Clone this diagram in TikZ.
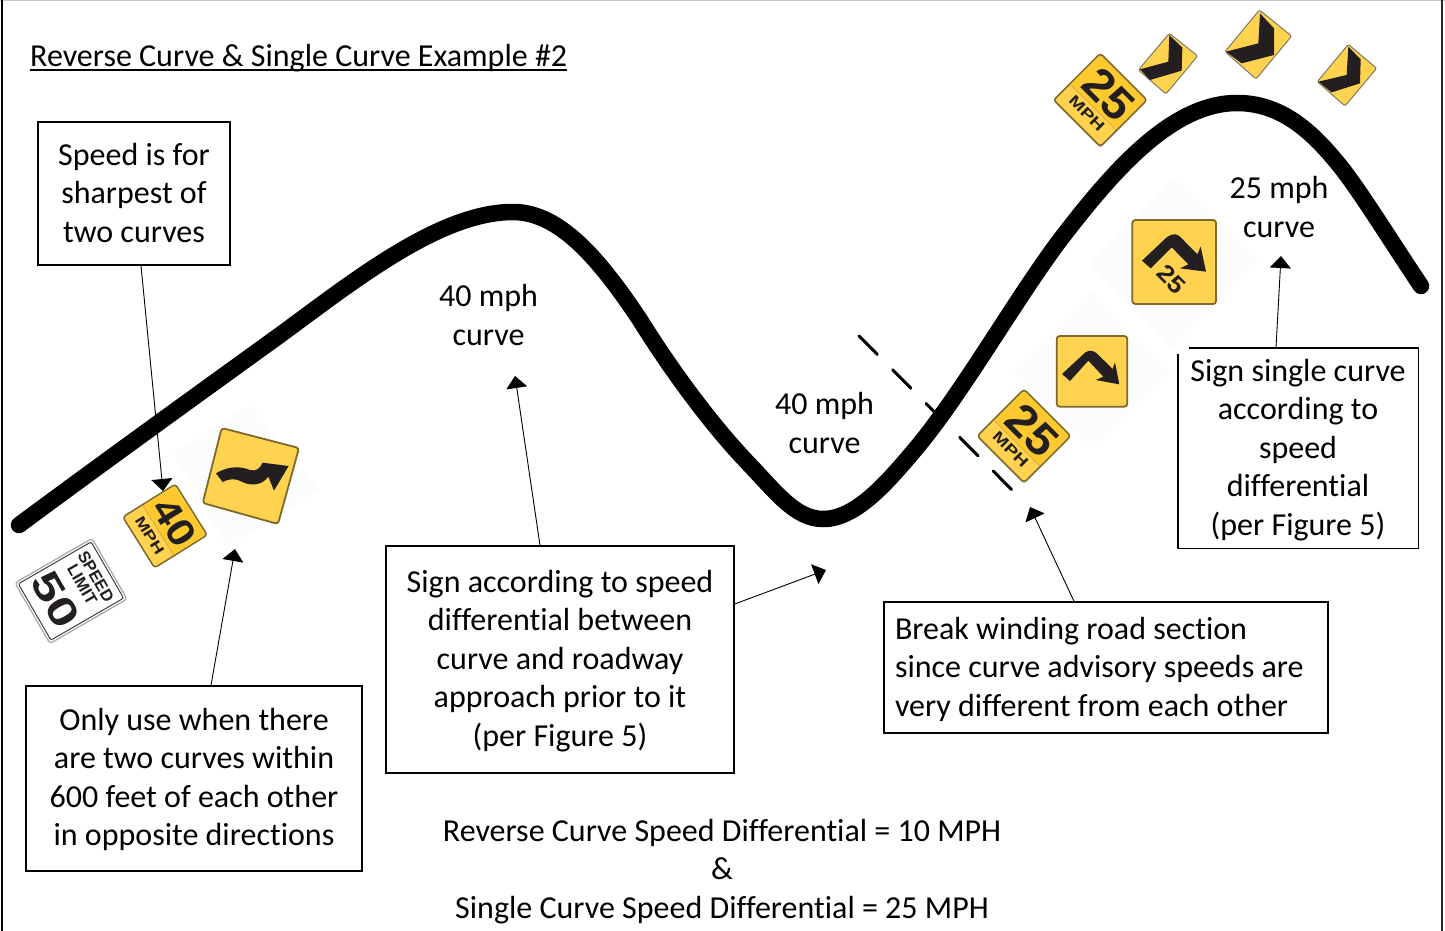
\documentclass[tikz,border=0pt]{standalone}
\usepackage{fontspec}
\setmainfont{Carlito}[Ligatures=CommonOff]
\newfontfamily\signfont{Liberation Sans}[BoldFont={Liberation Sans Bold}]
\usetikzlibrary{arrows.meta,calc}
\definecolor{signyellow}{HTML}{FFD24F}
\definecolor{signband}{HTML}{FDC92F}
\definecolor{signedge}{HTML}{7C6A2C}
\definecolor{signink}{HTML}{231F20}
\definecolor{halo}{HTML}{FCFCFD}
\tikzset{
  txt/.style={font=\fontsize{32}{38.5}\selectfont,align=center,inner sep=0pt,text=black},
  frame/.style={draw=black,line width=1.4pt,fill=white,inner sep=0pt},
  link/.style={draw=black,line width=0.9pt,-{Triangle[length=12pt,width=21pt]},shorten >=0pt},
  road/.style={draw=black,line width=16.5pt,line cap=round,line join=round},
  cut/.style={draw=black,line width=3pt,line cap=round,dash pattern=on 26pt off 21.6pt},
  plate/.style={fill=signyellow,draw=signedge,line width=1.5pt,rounded corners=3pt},
  chevplate/.style={fill=signyellow,draw=gray!70!signedge,line width=1pt,rounded corners=2pt},
  ink/.style={fill=signink,draw=none},
  signtxt/.style={transform shape,inner sep=0pt,text=signink},
  zoomed/.style={scale=1/3},
}
\newcommand{\speedplate}[2]{%
  \begin{scope}[shift={(#1,#2)},rotate=-45]
    \fill[gray!25] (-32,-32) ++(1,2) rectangle ++(65,64);
    \path[plate,line width=1.6pt] (-33,-33) rectangle (33,33);
    \begin{scope}
      \clip[rounded corners=3pt] (-32,-32) rectangle (32,32);
      \fill[signband] (-32,-32) rectangle (32,10);
    \end{scope}
    \draw[signedge!35!signyellow,line width=0.8pt] (-32,10) -- (32,10);
    \node[signtxt,xscale=1.05,font=\signfont\bfseries\fontsize{45}{45}\selectfont] at (2,-10) {25};
    \node[signtxt,xscale=1.3,font=\signfont\bfseries\fontsize{15}{15}\selectfont] at (0,19) {MPH};
  \end{scope}}
\begin{document}
\begin{tikzpicture}[x=1pt,y=-1pt]
\useasboundingbox (0,0) rectangle (1445,931);
\fill[white] (0,0) rectangle (1445,931);
% outer frame
\draw[gray!45,line width=2pt] (0,0.5) -- (1445,0.5);
\draw[black,line width=2.6pt] (2,0) -- (2,931);
\draw[black!85,line width=2pt] (1442,0) -- (1442,931);

% faint halos of the pasted signs
\fill[halo] (173,453) -- (250,405) -- (320,490) -- (227,547) -- cycle;
\fill[halo] (1173,178) -- (1258,263) -- (1173,350) -- (1088,263) -- cycle;
\fill[halo] (1092,290) -- (1172,370) -- (1092,448) -- (1012,370) -- cycle;

% break line and road
\coordinate (cutA) at (859,336);
\coordinate (cutB) at (1017,495);
\draw[cut] (cutA) -- (cutB);
\draw[road] (19,525) .. controls (100,465) and (190,400) .. (280,335)
  .. controls (355,280) and (440,212) .. (513,212)
  .. controls (560,212) and (600,260) .. (640,320)
  .. controls (668,365) and (708,421) .. (747,462)
  .. controls (775,491) and (795,519) .. (823,519)
  .. controls (855,519) and (885,485) .. (913,452)
  .. controls (960,397) and (1015,300) .. (1060,240)
  .. controls (1110,175) and (1170,103) .. (1237,103)
  .. controls (1280,103) and (1310,130) .. (1335,160)
  .. controls (1355,183) and (1385,232) .. (1421,286);

% speed limit 50
\begin{scope}[shift={(71,591)},rotate=-60]
  \path[fill=white,draw=gray!70,line width=1.2pt,rounded corners=3pt] (-35,-44.5) rectangle (35,44.5);
  \path[draw=black!75,line width=1pt,rounded corners=2pt] (-32.5,-42) rectangle (32.5,42);
  \node[signtxt,font=\signfont\bfseries\fontsize{16.5}{17}\selectfont] at (0,-29) {SPEED};
  \node[signtxt,font=\signfont\bfseries\fontsize{16.5}{17}\selectfont] at (0,-13) {LIMIT};
  \node[signtxt,xscale=1.3,font=\signfont\bfseries\fontsize{40}{40}\selectfont] at (0,18) {50};
\end{scope}

% speed plate 40
\begin{scope}[shift={(165,526)},rotate=-58]
  \path[plate] (-30,-31) rectangle (30,31);
  \begin{scope}
    \clip[rounded corners=3pt] (-29,-30) rectangle (29,30);
    \fill[signband] (-29,-30) rectangle (29,8);
  \end{scope}
  \draw[signedge!35!signyellow,line width=0.8pt] (-29,8) -- (29,8);
  \node[signtxt,xscale=1.15,font=\signfont\bfseries\fontsize{38}{38}\selectfont] at (2,-10) {40};
  \node[signtxt,xscale=1.3,font=\signfont\bfseries\fontsize{14.5}{15}\selectfont] at (0,18) {MPH};
\end{scope}

% reverse curve sign
\path[plate,line width=1.8pt] (221.7,428) -- (299,448) -- (278,524) -- (202.7,503) -- cycle;
\begin{scope}[shift={(0,410)},zoomed]
  \path[ink] (648,190) .. controls (690,165) and (725,170) .. (750,180)
    .. controls (770,185) and (780,175) .. (788,158) -- (866,168) -- (822,242)
    -- (805,200) .. controls (785,228) and (750,228) .. (725,215)
    .. controls (705,205) and (690,205) .. (668,216) -- cycle;
\end{scope}

% 25 mph plates
\speedplate{1100.3}{100}
\speedplate{1024}{436}

% chevrons
\begin{scope}[shift={(1040,0)},zoomed]
  \path[chevplate] (388,100) -- (473,168) -- (378,282) -- (295,210) -- cycle;
  \path[ink] (388,105) -- (427,143) -- (425,212) -- (330,240) -- (300,208) -- (385,185) -- cycle;
  \path[chevplate] (658,30) -- (755,108) -- (648,237) -- (555,155) -- cycle;
  \path[ink] (660,40) -- (702,85) -- (702,165) -- (605,190) -- (558,155) -- (655,130) -- cycle;
  \path[chevplate] (925,133) -- (1010,205) -- (915,318) -- (832,245) -- cycle;
  \path[ink] (925,140) -- (962,178) -- (960,250) -- (875,277) -- (835,245) -- (920,225) -- cycle;
\end{scope}

% turn signs
\begin{scope}[shift={(960,200)},zoomed]
  \path[plate,line width=1.8pt] (290,408) rectangle (502,620);
  \path[ink] (306,522) -- (375,458) .. controls (390,448) and (400,452) .. (410,460)
    -- (458,507) -- (465,487) -- (478,553) -- (407,540) -- (430,530) -- (385,482) -- (330,543) -- cycle;
  \path[plate,line width=1.8pt] (517,60) rectangle (768,312);
  \path[ink] (546,182) -- (620,112) .. controls (640,98) and (650,102) .. (660,110)
    -- (712,163) -- (722,140) -- (738,215) -- (660,205) -- (685,193) -- (635,142) -- (572,205) -- cycle;
\end{scope}
\begin{scope}[shift={(1171.7,279.3)},rotate=-45]
  \node[signtxt,xscale=1.1,font=\signfont\bfseries\fontsize{24}{24}\selectfont] (turn25) at (0,0) {25};
\end{scope}

% text boxes
\node[frame,minimum width=192pt,minimum height=143pt] (speedbox) at (134,193.5) {};
\node[txt] (speedtext) at ([yshift=0.5pt]speedbox.center) {Speed is for\\sharpest of\\two curves};
\node[frame,minimum width=336pt,minimum height=185pt] (onlybox) at (194,778.5) {};
\node[txt] (onlytext) at ([yshift=-1pt]onlybox.center) {Only use when there\\are two curves within\\600 feet of each other\\in opposite directions};
\node[frame,minimum width=348pt,minimum height=227pt] (diffbox) at (560,659.5) {};
\node[txt] (difftext) at ([yshift=-1.5pt]diffbox.center) {Sign according to speed\\differential between\\curve and roadway\\approach prior to it\\(per Figure 5)};
\node[frame,minimum width=444pt,minimum height=131pt] (breakbox) at (1106,667.5) {};
\node[txt,align=flush left,text width=422pt] (breaktext) at ([yshift=-1.5pt]breakbox.center) {Break winding road section\\since curve advisory speeds are\\very different from each other};
\node[txt,minimum width=240pt,minimum height=200pt] (singlebox) at (1298,448) {};
\node[txt] (singletext) at ([yshift=-2pt]singlebox.center) {Sign single curve\\according to\\speed\\differential\\(per Figure 5)};
\draw[black,line width=1.4pt] ([xshift=11pt]singlebox.north west) -- (singlebox.north east) -- (singlebox.south east) -- (singlebox.south west) -- ([yshift=-6pt]singlebox.north west);

% free labels
\node[txt,anchor=base west] (title) at (30,67) {Reverse Curve \& Single Curve Example \#2};
\draw[black,line width=1.7pt] ([yshift=-3pt]title.base west) -- ([yshift=-3pt]title.base east);
\node[txt] (lab40a) at (488.5,315) {40 mph\\curve};
\node[txt] (lab40b) at (824.5,423) {40 mph\\curve};
\node[txt] (lab25) at (1279,207) {25 mph\\curve};
\node[txt] (summary) at (722,871.5) {Reverse Curve Speed Differential = 10 MPH\\\&\\Single Curve Speed Differential = 25 MPH};

% connectors
\coordinate (tipA) at (163,491);
\coordinate (tipB) at (235,549);
\coordinate (tipC) at (515,376);
\coordinate (tipD) at (826,570);
\coordinate (tipE) at (1030,507);
\coordinate (tipF) at (1281,256);
\draw[link] ([xshift=7pt]speedbox.south) -- (tipA);
\draw[link] ([xshift=17pt]onlybox.north) -- (tipB);
\draw[link] ([xshift=-20pt]diffbox.north) -- (tipC);
\draw[link] ([yshift=55.5pt]diffbox.east) -- (tipD);
\draw[link] ([xshift=-32pt]breakbox.north) -- (tipE);
\draw[link] ([xshift=-22pt]singlebox.north) -- (tipF);
\end{tikzpicture}
\end{document}
